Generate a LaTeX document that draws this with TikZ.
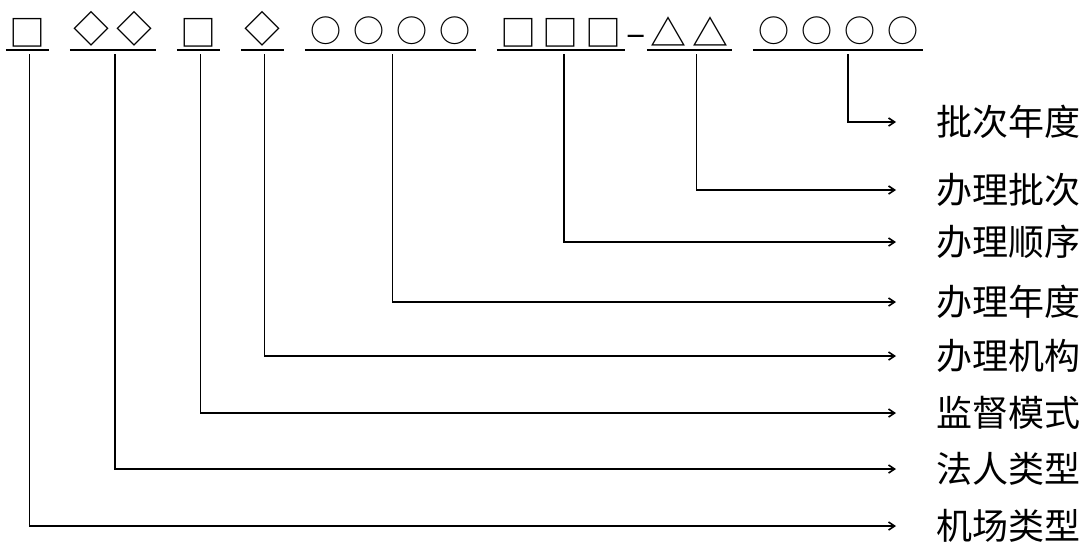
\documentclass[tikz,border=0pt]{standalone}
\usepackage{fontspec}
\setmainfont{Noto Sans CJK SC}
\usetikzlibrary{arrows.meta}

\begin{document}
\begin{tikzpicture}[
    x=1pt, y=-1pt,
    every node/.style={inner sep=0pt},
    grp/.style={anchor=south, font=\fontsize{36}{36}\selectfont, inner ysep=3pt},
    circgrp/.style={grp, font=\fontsize{31}{31}\selectfont, inner ysep=5pt},
    lbl/.style={anchor=west, font=\fontsize{36}{36}\selectfont},
    uline/.style={line width=1.6pt},
    conn/.style={line width=1.6pt, shorten <=4pt, shorten >=40pt, -{Straight Barb[length=6pt, width=8pt]}},
]
\useasboundingbox (0,0) rectangle (1092,550);

% Code groups
\node[grp, minimum width=43pt] (g1) at (27.5,50) {□};
\node[grp, minimum width=86pt] (g2) at (113,50) {◇\hspace{7pt}◇};
\node[grp, minimum width=43pt] (g3) at (198.5,50) {□};
\node[grp, minimum width=43pt] (g4) at (262.5,50) {◇};
\node[circgrp, minimum width=171pt] (g5) at (390.5,50) {○\hspace{12pt}○\hspace{12pt}○\hspace{12pt}○};
\node[grp, minimum width=128pt] (g6) at (561,50) {□\hspace{7pt}□\hspace{7pt}□};
\node[grp] (dash) at (636,50) {–};
\node[grp, minimum width=85pt] (g7) at (689.5,50) {△\hspace{6pt}△};
\node[circgrp, minimum width=170pt] (g8) at (838,50) {○\hspace{12pt}○\hspace{12pt}○\hspace{12pt}○};

% Underlines
\foreach \g in {g1,g2,g3,g4,g5,g6,g7,g8}
  \draw[uline] (\g.south west) -- (\g.south east);

% Labels
\node[lbl] (l8) at (936,122) {批次年度};
\node[lbl] (l7) at (936,190) {办理批次};
\node[lbl] (l6) at (936,242) {办理顺序};
\node[lbl] (l5) at (936,302) {办理年度};
\node[lbl] (l4) at (936,356) {办理机构};
\node[lbl] (l3) at (936,413) {监督模式};
\node[lbl] (l2) at (936,469) {法人类型};
\node[lbl] (l1) at (936,526) {机场类型};

% Connectors
\draw[conn] ([xshift=2pt]g1.south) |- (l1.west);
\draw[conn] ([xshift=2pt]g2.south) |- (l2.west);
\draw[conn] ([xshift=2pt]g3.south) |- (l3.west);
\draw[conn] ([xshift=2pt]g4.south) |- (l4.west);
\draw[conn] ([xshift=2pt]g5.south) |- (l5.west);
\draw[conn] ([xshift=3pt]g6.south) |- (l6.west);
\draw[conn] ([xshift=7pt]g7.south) |- (l7.west);
\draw[conn] ([xshift=10pt]g8.south) |- (l8.west);
\end{tikzpicture}
\end{document}
